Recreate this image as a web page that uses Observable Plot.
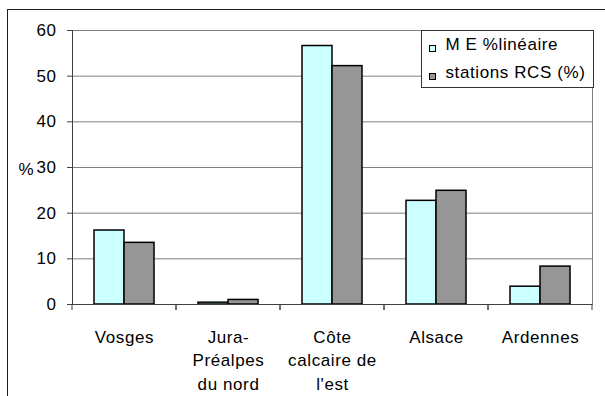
<!DOCTYPE html>
<html>
<head>
<meta charset="utf-8">
<script src="https://cdn.jsdelivr.net/npm/d3@7"></script>
<script src="https://cdn.jsdelivr.net/npm/@observablehq/plot@0.6"></script>
<style>
  html, body { margin: 0; padding: 0; background: #fff; }
  #chart {
    position: relative; width: 605px; height: 396px; overflow: hidden;
    font-family: "Liberation Sans", Arial, sans-serif;
  }
  #chart svg { position: absolute; left: 0; top: 0; }
  #outline {
    position: absolute; left: 7px; top: 9px; right: -20px; bottom: -20px;
    border-left: 1.5px solid #1e1e1e; border-top: 1.5px solid #1e1e1e;
    pointer-events: none;
  }
  #legend {
    position: absolute; left: 421px; top: 30px; width: 171px;
    border: 1px solid #333; background: #fff;
    font-size: 17px; letter-spacing: 0.6px; color: #000;
  }
  #legend .row { position: relative; height: 28px; line-height: 28px; padding-left: 23.5px; white-space: pre; }
  #legend .swatch {
    position: absolute; left: 7px; top: 14px; width: 7px; height: 7px;
    box-sizing: border-box; border: 1.2px solid #000;
  }
</style>
</head>
<body>
<div id="chart"><div id="outline"></div></div>
<script>
// Hydro-ecoregions and the two shares compared in each
const categories = ["Vosges", "Jura-\nPréalpes\ndu nord", "Côte\ncalcaire de\nl'est", "Alsace", "Ardennes"];
const seriesNames = ["M E %linéaire", "stations RCS (%)"];
const seriesColors = ["#ccffff", "#969696"];
const meLineaire = [16.2, 0.4, 56.6, 22.7, 3.9];
const stationsRcs = [13.5, 1.0, 52.2, 24.9, 8.3];
const yTicks = [0, 10, 20, 30, 40, 50, 60];

const rows = categories.flatMap((region, i) => [
  {region, series: seriesNames[0], value: meLineaire[i]},
  {region, series: seriesNames[1], value: stationsRcs[i]}
]);

// short ticks under the baseline at both edges of each region's band
const boundaryTicks = (index, {y}, values, {width, marginLeft, marginRight}) => {
  const g = d3.create("svg:g").attr("stroke", "#404040");
  for (const x of [marginLeft, width - marginRight]) {
    g.append("line").attr("x1", x).attr("x2", x).attr("y1", y(0)).attr("y2", y(0) + 6);
  }
  return g.node();
};

const chart = Plot.plot({
  width: 605,
  height: 396,
  marginTop: 30,
  marginRight: 11,
  marginBottom: 92,
  marginLeft: 70,
  style: {
    fontFamily: '"Liberation Sans", Arial, sans-serif',
    fontSize: "17px",
    letterSpacing: "0.6px",
    color: "#000",
    background: "transparent"
  },
  fx: {domain: categories, padding: 0},
  x: {domain: seriesNames, paddingInner: 0, paddingOuter: 0.73, axis: null},
  y: {domain: [0, 60]},
  color: {domain: seriesNames, range: seriesColors},
  marks: [
    Plot.gridY(yTicks, {stroke: "#808080", strokeOpacity: 1}),
    Plot.frame({anchor: "right", stroke: "#808080", facetAnchor: "right"}),
    Plot.barY(rows, {fx: "region", x: "series", y: "value", fill: "series", stroke: "#000", strokeWidth: 1.5}),
    Plot.ruleY([0], {stroke: "#404040"}),
    Plot.frame({anchor: "left", stroke: "#404040", facetAnchor: "left"}),
    Plot.axisY(yTicks, {tickSize: 5, tickPadding: 11, stroke: "#404040", fill: "#000", label: null}),
    Plot.text(["%"], {text: d => d, frameAnchor: "left", textAnchor: "start", dx: -54, dy: 2, fill: "#000", facetAnchor: "left"}),
    Plot.axisFx({anchor: "bottom", tickSize: 0, tickPadding: 21, lineHeight: 1.41, fill: "#000", label: null}),
    boundaryTicks
  ]
});

const holder = document.getElementById("chart");
holder.insertBefore(chart, holder.firstChild);

// legend box inside the upper right corner of the plot area
const legend = document.createElement("div");
legend.id = "legend";
seriesNames.forEach((name, i) => {
  const row = document.createElement("div");
  row.className = "row";
  const sw = document.createElement("span");
  sw.className = "swatch";
  sw.style.background = seriesColors[i];
  row.appendChild(sw);
  row.appendChild(document.createTextNode(name));
  legend.appendChild(row);
});
holder.appendChild(legend);
</script>
</body>
</html>
